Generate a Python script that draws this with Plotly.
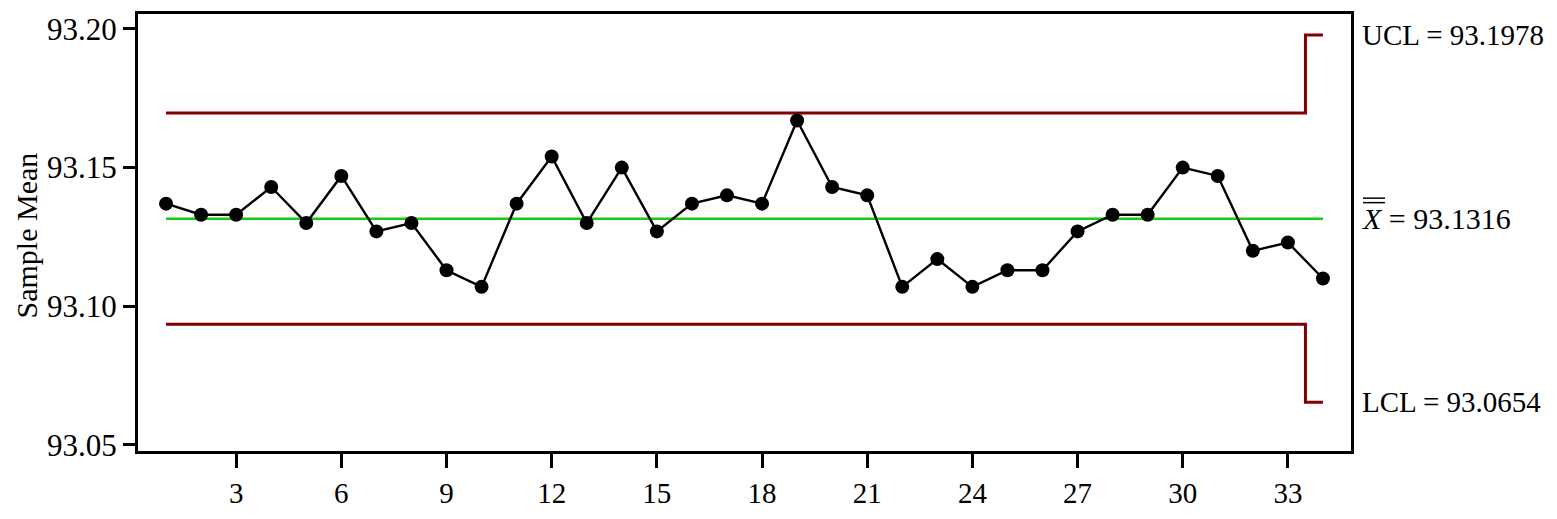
import plotly.graph_objects as go

samples = list(range(1, 35))
sample_means = [93.137, 93.133, 93.133, 93.143, 93.130, 93.147, 93.127, 93.130, 93.113, 93.107,
                93.137, 93.154, 93.130, 93.150, 93.127, 93.137, 93.140, 93.137, 93.167, 93.143,
                93.140, 93.107, 93.117, 93.107, 93.113, 93.113, 93.127, 93.133, 93.133, 93.150,
                93.147, 93.120, 93.123, 93.110]
center = 93.1316
ucl = [93.1697] * 33 + [93.1978]
lcl = [93.0935] * 33 + [93.0654]
center_line = [center] * 34

y_ticks = [93.05, 93.10, 93.15, 93.20]
y_tick_text = ["93.05", "93.10", "93.15", "93.20"]
x_ticks = [3, 6, 9, 12, 15, 18, 21, 24, 27, 30, 33]

y_title = "Sample Mean"
label_ucl = "UCL = 93.1978"
label_center = "<i>X</i> = 93.1316"
label_lcl = "LCL = 93.0654"

FONT = "Liberation Serif"
DARK_RED = "#800000"

fig = go.Figure()
fig.add_trace(go.Scatter(x=samples, y=ucl, mode="lines", line=dict(color=DARK_RED, width=3, shape="hvh"),
                         showlegend=False, hoverinfo="skip"))
fig.add_trace(go.Scatter(x=samples, y=lcl, mode="lines", line=dict(color=DARK_RED, width=3, shape="hvh"),
                         showlegend=False, hoverinfo="skip"))
fig.add_trace(go.Scatter(x=samples, y=center_line, mode="lines", line=dict(color="#14cc14", width=2.5),
                         showlegend=False, hoverinfo="skip"))
fig.add_trace(go.Scatter(x=samples, y=sample_means, mode="lines+markers",
                         line=dict(color="black", width=2.4),
                         marker=dict(color="black", size=14, symbol="circle"),
                         showlegend=False))

label_sizes = [29, 30, 29]
for txt, yv, fs in zip([label_ucl, label_center, label_lcl], [ucl[-1], center, lcl[-1]], label_sizes):
    fig.add_annotation(text=txt, xref="paper", x=1, xshift=9, xanchor="left",
                       yref="y", y=yv, yanchor="middle", showarrow=False,
                       font=dict(family=FONT, size=fs, color="black"))

# y-axis title placed as a rotated annotation for exact positioning
fig.add_annotation(text=y_title, xref="paper", yref="paper", x=0, y=0.5, xshift=-112, yshift=-3,
                   xanchor="center", yanchor="middle", textangle=-90, showarrow=False,
                   font=dict(family=FONT, size=30, color="black"))

# double overline over the X of the centre-line label
for dy in (16, 20.5):
    fig.add_shape(type="line", xref="paper", yref="y", xsizemode="pixel", ysizemode="pixel",
                  xanchor=1, yanchor=center, x0=12, x1=34, y0=dy, y1=dy,
                  line=dict(color="black", width=1.5))

fig.update_layout(
    width=1549, height=511,
    margin=dict(l=130, r=206, t=3, b=68),
    plot_bgcolor="white", paper_bgcolor="white",
    font=dict(family=FONT, size=29, color="black"),
)
fig.update_xaxes(range=[0.2, 34.8], tickvals=x_ticks, ticks="outside", ticklen=14, tickwidth=2.5,
                 tickcolor="black", showline=True, linecolor="black", linewidth=3, mirror=True,
                 showgrid=False, zeroline=False, tickfont=dict(family=FONT, size=29))
fig.update_yaxes(range=[93.0478, 93.2054], tickvals=y_ticks, ticktext=y_tick_text, ticks="outside",
                 ticklen=12, tickwidth=2.5, tickcolor="black", showline=True, linecolor="black",
                 linewidth=3, mirror=True, showgrid=False, zeroline=False,
                 tickfont=dict(family=FONT, size=31), automargin=False)

fig.write_html("out.html")
